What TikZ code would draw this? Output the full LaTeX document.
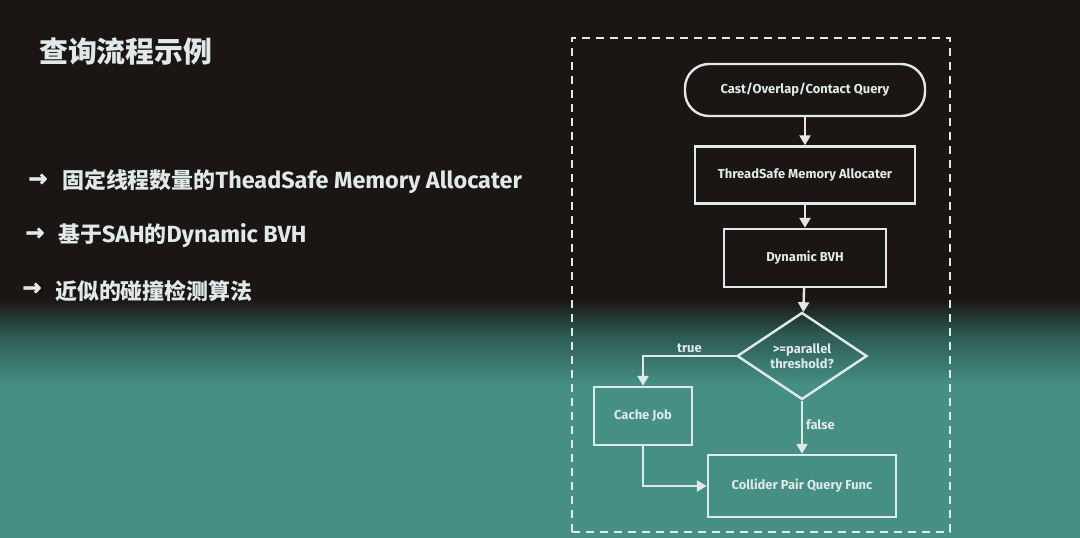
\documentclass[tikz,border=0pt]{standalone}
\usepackage{fontspec}
\setmainfont{Fira Sans}
\newfontfamily\cjk{Noto Sans CJK SC}
\newfontfamily\arrowfont[FakeBold=2]{DejaVu Sans Bold}
\usetikzlibrary{shapes.geometric,arrows.meta}
\definecolor{bgtop}{HTML}{1B1613}
\definecolor{bgmid}{HTML}{2C5A52}
\definecolor{bgbot}{HTML}{468F85}
\definecolor{ink}{HTML}{E0E9E9}
\tikzset{
  box/.style={draw=ink, line width=2.4bp, text=ink, inner sep=0pt, align=center,
    font=\bfseries\fontsize{13}{15.5}\selectfont},
  flow/.style={draw=ink, line width=2.4bp, -{Triangle[width=11bp,length=10bp]}},
  lbl/.style={text=ink, inner sep=1pt, font=\bfseries\fontsize{13}{15.5}\selectfont},
  bullet/.style={anchor=west, text=ink, inner sep=0pt, font=\bfseries\fontsize{23.5}{26}\selectfont},
  barrow/.style={anchor=west, text=ink, inner sep=0pt, font=\arrowfont\fontsize{23}{26}\selectfont},
  frame/.style={draw=ink, line width=2.4bp, dash pattern=on 8bp off 6bp, inner sep=0pt}
}
\newcommand\zh[1]{{\cjk\fontsize{22}{26}\selectfont #1}}
\begin{document}
\begin{tikzpicture}[x=1bp,y=-1bp]
\useasboundingbox (0,0) rectangle (1080,538);
% background
\fill[bgtop] (0,0) rectangle (1080,300);
\shade[top color=bgtop, bottom color=bgmid] (0,299.5) rectangle (1080,335);
\shade[top color=bgmid, bottom color=bgbot] (0,334.5) rectangle (1080,385);
\fill[bgbot] (0,384.5) rectangle (1080,538);

% left text
\node[anchor=west, text=ink, inner sep=0pt, font=\cjk\bfseries\fontsize{29}{32}\selectfont] (title) at (39,51) {查询流程示例};
\node[barrow] (a1) at (28,180) {→};
\node[bullet] (b1) at (62,182) {\zh{固定线程数量的}TheadSafe Memory Allocater};
\node[barrow] (a2) at (25,234) {→};
\node[bullet] (b2) at (58,236) {\zh{基于}SAH\zh{的}Dynamic BVH};
\node[barrow] (a3) at (22,289) {→};
\node[bullet] (b3) at (55,291) {\zh{近似的碰撞检测算法}};

% frame
\node[frame, minimum width=378bp, minimum height=494bp] (fr) at (761,285) {};

% flowchart
\node[box, rounded corners=24bp, minimum width=240bp, minimum height=52bp] (q) at (805,90) {Cast/Overlap/Contact Query};
\node[box, minimum width=220bp, minimum height=57bp] (ts) at (805,175) {ThreadSafe Memory Allocater};
\node[box, minimum width=162bp, minimum height=58bp] (bvh) at (805,258) {Dynamic BVH};
\node[box, diamond, aspect=1.5, minimum width=130bp, minimum height=87bp] (dec) at (802,356) {>=parallel\\threshold?};
\node[box, minimum width=98bp, minimum height=58bp] (cj) at (643,416) {Cache Job};
\node[box, minimum width=188bp, minimum height=62bp] (cp) at (802,486) {Collider Pair Query Func};

\draw[flow] (q) -- (ts);
\draw[flow] (ts) -- (bvh);
\draw[flow] (bvh) -- (dec);
\draw[flow] (dec.west) -| (cj.north) node[lbl, pos=0.25, above=1bp] (tl) {true};
\draw[flow] (dec.south) -- (cp.north) node[lbl, pos=0.45, right=2bp] (fl) {false};
\draw[flow] (cj.south) |- (cp.west);
\end{tikzpicture}
\end{document}
